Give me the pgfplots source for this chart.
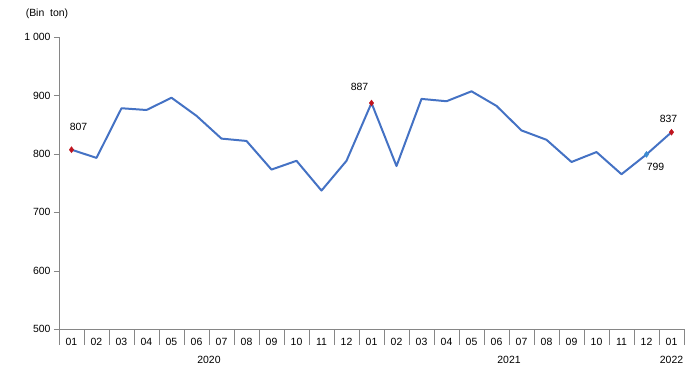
\documentclass[border=0pt]{standalone}
\usepackage{pgfplots}
\pgfplotsset{compat=1.18}
\usepackage{fontspec}
\setmainfont{Liberation Sans}
\definecolor{lineblue}{RGB}{68,114,196}
\definecolor{mkred}{RGB}{192,20,30}
\definecolor{mkblue}{RGB}{60,140,210}
\definecolor{axgray}{RGB}{134,134,134}
\begin{document}
\begin{tikzpicture}
\useasboundingbox (-59bp,-44bp) rectangle (632bp,329bp);
\begin{axis}[
  at={(0,0)}, anchor=south west,
  scale only axis, width=625bp, height=292bp,
  xmin=-0.5, xmax=24.5, ymin=500, ymax=1000,
  axis lines*=left,
  axis line style={axgray},
  ytick={500,600,700,800,900,1000},
  yticklabels={500,600,700,800,900,1 000},
  xtick={0,...,24},
  xticklabels={01,02,03,04,05,06,07,08,09,10,11,12,01,02,03,04,05,06,07,08,09,10,11,12,01},
  major x tick style={draw=none},
  minor xtick={-0.5,0.5,...,24.5},
  minor x tick style={axgray},
  minor tick length=16bp,
  extra x ticks={-0.5,11.5,23.5,24.5},
  extra x tick labels={},
  extra x tick style={major tick length=41bp, tick style={draw=axgray}},
  tick align=outside,
  y tick style={axgray},
  major tick length=5bp,
  tick label style={font=\fontsize{10.5}{12}\selectfont},
  xticklabel style={yshift=-1bp},
  clip=false,
]
\addplot[lineblue, line width=2pt, line join=round] coordinates {
(0,807) (1,793) (2,878) (3,875) (4,896) (5,865) (6,826) (7,822) (8,773) (9,788) (10,737) (11,788)
(12,887) (13,779) (14,894) (15,890) (16,907) (17,882) (18,840) (19,824) (20,786) (21,803) (22,765) (23,799) (24,837)
};
\addplot[only marks, mark=diamond*, mark size=3pt, mkred] coordinates {(0,807) (12,887) (24,837)};
\addplot[only marks, mark=diamond*, mark size=3pt, mkblue] coordinates {(23,799)};
\node[font=\fontsize{10.5}{12}\selectfont] at (axis cs:0,807) [xshift=7bp, yshift=23bp] {807};
\node[font=\fontsize{10.5}{12}\selectfont] at (axis cs:12,887) [xshift=-12bp, yshift=16bp] {887};
\node[font=\fontsize{10.5}{12}\selectfont] at (axis cs:24,837) [xshift=-3bp, yshift=13bp] {837};
\node[font=\fontsize{10.5}{12}\selectfont] at (axis cs:23,799) [xshift=9bp, yshift=-13bp] {799};
\node[font=\fontsize{10.5}{12}\selectfont] at (axis cs:5.5,500) [yshift=-31bp] {2020};
\node[font=\fontsize{10.5}{12}\selectfont] at (axis cs:17.5,500) [yshift=-31bp] {2021};
\node[font=\fontsize{10.5}{12}\selectfont] at (axis cs:24,500) [yshift=-31bp] {2022};
\node[font=\fontsize{10.5}{12}\selectfont] at (rel axis cs:0,1) [xshift=-12bp, yshift=23bp] {(Bin\ \ ton)};
\end{axis}
\end{tikzpicture}
\end{document}
